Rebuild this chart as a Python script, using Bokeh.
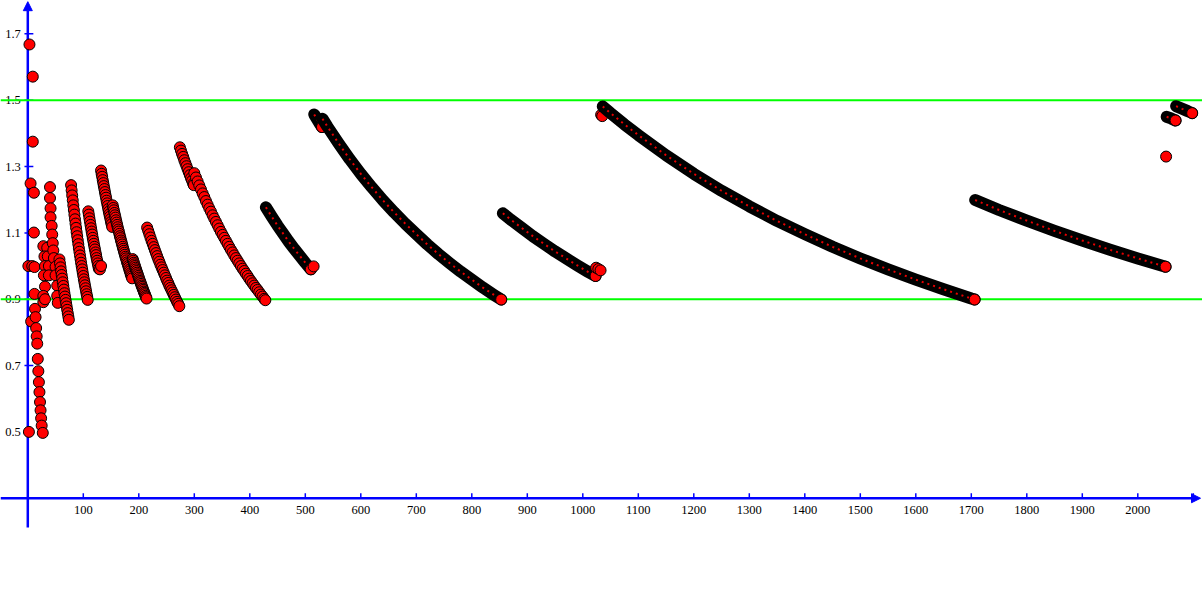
from bokeh.plotting import figure
from bokeh.models import Range1d, Span, Arrow, NormalHead
from bokeh.core.properties import value
from bokeh.embed import file_html
from bokeh.resources import INLINE

# ---------------- data ----------------
# scattered early terms
early_n = [1, 2, 3, 5, 6, 8, 9, 9, 11, 11, 12, 12]
early_v = [1.0, 0.5, 1.668, 1.249, 0.833, 1.0, 1.571, 1.375, 1.221, 1.101, 0.997, 0.916]
# falling column down to 0.5
col_n = [13, 14, 15, 16, 17, 18, 19, 20, 21, 22, 23, 24, 25, 27]
col_v = [0.871, 0.846, 0.813, 0.788, 0.766, 0.720, 0.683, 0.650, 0.620, 0.590, 0.565, 0.541, 0.519, 0.497]
# cluster around 1.0
clus_n = [28, 35, 30, 36, 31, 38, 29, 38, 31, 28, 28, 31]
clus_v = [1.060, 1.055, 1.029, 1.029, 1.000, 1.000, 0.972, 0.972, 0.938, 0.910, 0.891, 0.900]
run_k_n = [40, 40, 41, 41, 43, 44, 45, 46]
run_k_v = [1.238, 1.205, 1.174, 1.147, 1.121, 1.095, 1.069, 1.047]
run_j1_n = [47, 50, 50, 53, 53, 54]
run_j1_v = [1.024, 0.998, 0.972, 0.941, 0.910, 0.889]
run_j2_n = list(range(57, 75))
run_j2_v = [1.020, 1.008, 0.996, 0.984, 0.973, 0.962, 0.951, 0.940, 0.929, 0.918,
            0.908, 0.898, 0.888, 0.878, 0.868, 0.858, 0.848, 0.838]
run_i1_n = list(range(78, 109))
run_i1_v = [1.244, 1.228, 1.213, 1.198, 1.183, 1.169, 1.155, 1.141, 1.128, 1.115,
            1.102, 1.090, 1.078, 1.066, 1.054, 1.043, 1.032, 1.021, 1.010, 1.000,
            0.990, 0.980, 0.970, 0.960, 0.951, 0.942, 0.933, 0.924, 0.915, 0.907, 0.898]
run_i2_n = list(range(109, 129)) + [130, 132]
run_i2_v = [1.165, 1.155, 1.144, 1.134, 1.124, 1.114, 1.104, 1.095, 1.085, 1.076,
            1.067, 1.058, 1.050, 1.041, 1.033, 1.024, 1.016, 1.008, 1.000, 0.992,
            0.990, 1.000]
run_h1_n = list(range(132, 153))
run_h1_v = [1.288, 1.278, 1.269, 1.259, 1.250, 1.241, 1.232, 1.223, 1.214, 1.206,
            1.197, 1.189, 1.181, 1.172, 1.164, 1.156, 1.149, 1.141, 1.133, 1.126, 1.118]
run_h2_n = list(range(153, 189))
run_h2_v = [1.183, 1.175, 1.168, 1.160, 1.153, 1.146, 1.138, 1.131, 1.124, 1.117,
            1.110, 1.104, 1.097, 1.090, 1.084, 1.077, 1.071, 1.065, 1.058, 1.052,
            1.046, 1.040, 1.034, 1.028, 1.023, 1.017, 1.011, 1.006, 1.000, 0.995,
            0.989, 0.984, 0.978, 0.973, 0.968, 0.963]
run_h3_n = list(range(189, 215))
run_h3_v = [1.021, 1.016, 1.010, 1.005, 1.000, 0.995, 0.990, 0.985, 0.980, 0.975,
            0.970, 0.965, 0.960, 0.955, 0.951, 0.946, 0.941, 0.937, 0.932, 0.928,
            0.923, 0.919, 0.915, 0.910, 0.906, 0.902]
run_g_n = list(range(215, 274, 2))
run_g_v = [1.116, 1.106, 1.096, 1.086, 1.076, 1.067, 1.057, 1.048, 1.039, 1.030,
           1.021, 1.013, 1.004, 0.996, 0.988, 0.980, 0.972, 0.964, 0.956, 0.949,
           0.941, 0.934, 0.927, 0.920, 0.913, 0.906, 0.899, 0.892, 0.886, 0.879]
run_f1_n = list(range(274, 299, 2)) + [299]
run_f1_v = [1.358, 1.348, 1.338, 1.329, 1.319, 1.310, 1.301, 1.292, 1.283, 1.274,
            1.265, 1.257, 1.248, 1.244]
run_f2_n = list(range(300, 427, 3)) + [428]
run_f2_v = [1.280, 1.267, 1.255, 1.243, 1.231, 1.219, 1.208, 1.196, 1.185, 1.174,
            1.164, 1.153, 1.143, 1.133, 1.123, 1.113, 1.103, 1.094, 1.085, 1.076,
            1.067, 1.058, 1.049, 1.041, 1.032, 1.024, 1.016, 1.008, 1.000, 0.992,
            0.985, 0.977, 0.970, 0.962, 0.955, 0.948, 0.941, 0.934, 0.928, 0.921,
            0.914, 0.908, 0.901, 0.897]

# dense runs (drawn as bands)
band_e_n = [429, 440, 450, 460, 470, 480, 490, 500, 510]
band_e_v = [1.177, 1.148, 1.122, 1.098, 1.074, 1.052, 1.031, 1.010, 0.990]
tail_e_n = [515]
tail_e_v = [0.999]
band_d0_n = [516, 520, 525, 530]
band_d0_v = [1.457, 1.446, 1.432, 1.419]
band_d_n = [531, 540, 560, 580, 600, 620, 640, 660, 680, 700, 720, 740, 760, 780, 800, 820, 840, 853]
band_d_v = [1.444, 1.420, 1.370, 1.322, 1.278, 1.237, 1.198, 1.162, 1.128, 1.096,
            1.065, 1.036, 1.009, 0.983, 0.959, 0.935, 0.913, 0.899]
band_c_n = [856, 870, 890, 910, 930, 950, 970, 990, 1010, 1023]
band_c_v = [1.159, 1.140, 1.115, 1.090, 1.067, 1.044, 1.023, 1.002, 0.982, 0.970]
tail_c_n = [1024, 1028, 1032]
tail_c_v = [0.995, 0.991, 0.987]
tail_a0_n = [1033, 1035]
tail_a0_v = [1.456, 1.452]
band_a_n = [1036, 1050, 1075, 1100, 1150, 1200, 1250, 1300, 1350, 1400, 1450, 1500, 1550, 1600, 1650, 1700, 1706]
band_a_v = [1.481, 1.461, 1.427, 1.395, 1.334, 1.278, 1.227, 1.180, 1.136, 1.096,
            1.058, 1.023, 0.990, 0.959, 0.930, 0.902, 0.899]
band_b_n = [1707, 1750, 1800, 1850, 1900, 1950, 2000, 2050]
band_b_v = [1.199, 1.169, 1.137, 1.106, 1.077, 1.049, 1.023, 0.998]
lone_n = [2051]
lone_v = [1.330]
band_p1_n = [2052, 2060, 2068]
band_p1_v = [1.450, 1.445, 1.439]
band_p2_n = [2069, 2080, 2090, 2098]
band_p2_v = [1.482, 1.474, 1.467, 1.461]

x_ticks = list(range(100, 2101, 100))
x_labels = [str(t) for t in range(100, 2001, 100)]
y_ticks = [0.5, 0.7, 0.9, 1.1, 1.3, 1.5, 1.7]
y_labels = ["0.5", "0.7", "0.9", "1.1", "1.3", "1.5", "1.7"]
bounds = [0.9, 1.5]

# ---------------- layout / style ----------------
X_AXIS_AT = 0.3
Y_AXIS_AT = 0
Y_AXIS_BOTTOM = 0.212
X0, X1 = -49.19, 2116.58
Y0, Y1 = -0.02337, 1.80057
X_ARROW_END = 2113
Y_ARROW_END = 1.797
BLUE = "#0000FF"
GREEN = "#00FF00"
FONT = value("Liberation Serif")

p = figure(width=1202, height=605, output_backend="svg", toolbar_location=None,
           x_range=Range1d(X0, X1), y_range=Range1d(Y0, Y1),
           x_axis_type=None, y_axis_type=None, min_border=0,
           outline_line_color=None, background_fill_color="white",
           border_fill_color="white")

# tick labels
p.text(x=x_ticks[:len(x_labels)], y=[X_AXIS_AT] * len(x_labels), text=x_labels,
       text_font=FONT, text_font_size="12.5px", text_color="black",
       text_align="center", text_baseline="middle", y_offset=12, level="underlay")
p.text(x=[Y_AXIS_AT] * len(y_ticks), y=y_ticks, text=y_labels,
       text_font=FONT, text_font_size="12.5px", text_color="black",
       text_align="right", text_baseline="middle", x_offset=-7, level="underlay")

# tick marks
tick_h = 5 / 331.7
p.segment(x0=x_ticks, y0=[X_AXIS_AT] * len(x_ticks), x1=x_ticks,
          y1=[X_AXIS_AT + tick_h] * len(x_ticks), line_color=BLUE, line_width=1.5,
          level="underlay")
p.segment(x0=[Y_AXIS_AT - 6] * len(y_ticks), y0=y_ticks, x1=[Y_AXIS_AT + 10] * len(y_ticks),
          y1=y_ticks, line_color=BLUE, line_width=1.5, level="underlay")

# axes with arrow heads
p.add_layout(Arrow(end=NormalHead(size=9, fill_color=BLUE, line_color=BLUE),
                   x_start=X0, y_start=X_AXIS_AT, x_end=X_ARROW_END, y_end=X_AXIS_AT,
                   line_color=BLUE, line_width=2.5, level="underlay"))
p.add_layout(Arrow(end=NormalHead(size=9, fill_color=BLUE, line_color=BLUE),
                   x_start=Y_AXIS_AT, y_start=Y_AXIS_BOTTOM, x_end=Y_AXIS_AT, y_end=Y_ARROW_END,
                   line_color=BLUE, line_width=2.5, level="underlay"))

# green bounds
for b in bounds:
    p.add_layout(Span(location=b, dimension="width", line_color=GREEN,
                      line_width=2, level="underlay"))


def dots(n, v):
    p.scatter(n, v, size=11, fill_color="#FF0000", line_color="black", line_width=1)


def band(n, v):
    p.line(n, v, line_color="black", line_width=12, line_cap="round", line_join="round")
    p.line(n, v, line_color="#FF0000", line_width=2, line_dash="2 4", line_alpha=0.9)
    p.scatter([n[-1]], [v[-1]], size=11, fill_color="#FF0000", line_color="black", line_width=1)


for n, v in [(early_n, early_v), (col_n, col_v), (clus_n, clus_v),
             (run_k_n, run_k_v), (run_j1_n, run_j1_v), (run_j2_n, run_j2_v),
             (run_i1_n, run_i1_v), (run_i2_n, run_i2_v), (run_h1_n, run_h1_v),
             (run_h2_n, run_h2_v), (run_h3_n, run_h3_v), (run_g_n, run_g_v),
             (run_f1_n, run_f1_v), (run_f2_n, run_f2_v)]:
    dots(n, v)

band(band_e_n, band_e_v)
dots(tail_e_n, tail_e_v)
band(band_d0_n, band_d0_v)
band(band_d_n, band_d_v)
band(band_c_n, band_c_v)
dots(tail_c_n, tail_c_v)
dots(tail_a0_n, tail_a0_v)
band(band_a_n, band_a_v)
band(band_b_n, band_b_v)
dots(lone_n, lone_v)
band(band_p1_n, band_p1_v)
band(band_p2_n, band_p2_v)

open("out.html", "w").write(file_html(p, INLINE))
